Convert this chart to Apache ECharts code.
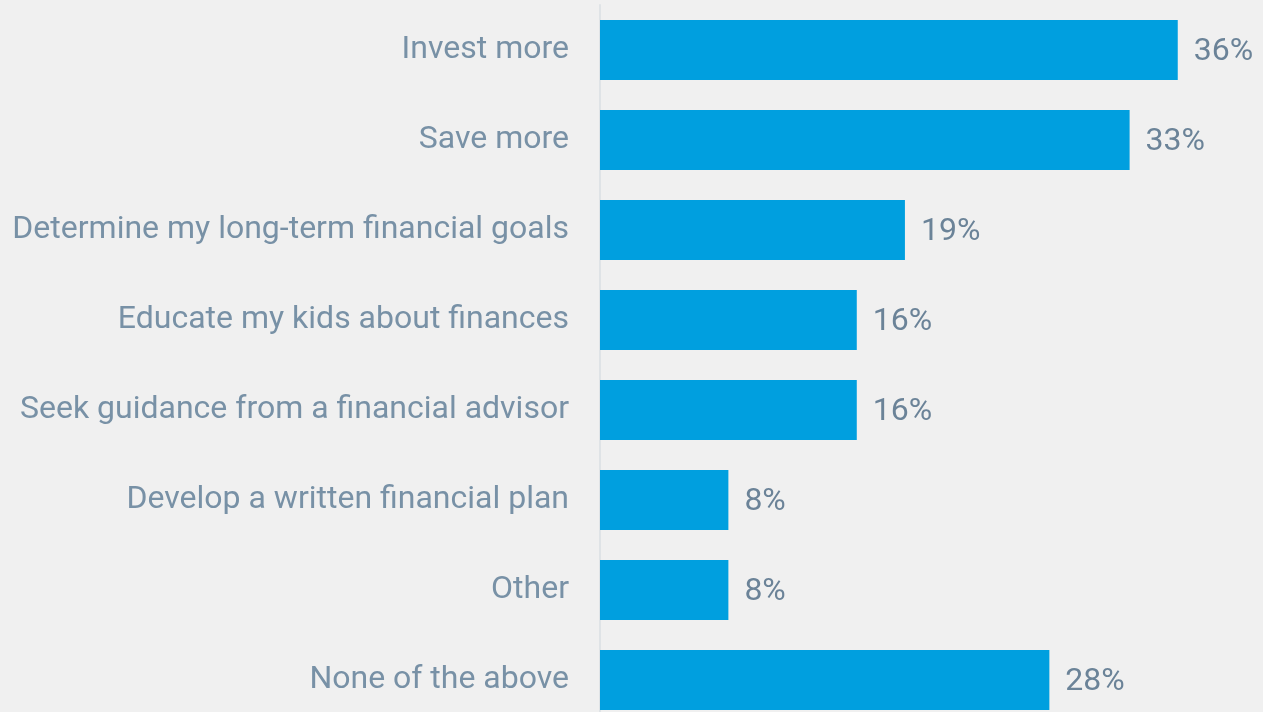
<!DOCTYPE html>
<html>
<head>
<meta charset="utf-8">
<style>
  html, body { margin: 0; padding: 0; background: #f0f0f0; }
  #chart { width: 1263px; height: 712px; }
</style>
<script src="https://cdn.jsdelivr.net/npm/echarts@6/dist/echarts.min.js"></script>
</head>
<body>
<div id="chart"></div>
<script>
// Survey responses, top to bottom
const categories = [
  'Invest more',
  'Save more',
  'Determine my long-term financial goals',
  'Educate my kids about finances',
  'Seek guidance from a financial advisor',
  'Develop a written financial plan',
  'Other',
  'None of the above'
];
const shares = [36, 33, 19, 16, 16, 8, 8, 28];

const chart = echarts.init(document.getElementById('chart'), null, { renderer: 'canvas' });

chart.setOption({
  backgroundColor: '#f0f0f0',
  animation: false,
  grid: {
    left: 600, top: 5, width: 658, height: 720,
    containLabel: false,
    outerBoundsMode: 'none'
  },
  xAxis: {
    type: 'value',
    min: 0,
    max: 41,
    show: false
  },
  yAxis: {
    type: 'category',
    data: categories,
    inverse: true,
    axisLine: { show: true, lineStyle: { color: '#dfe3e6', width: 2 } },
    axisTick: { show: false },
    axisLabel: {
      margin: 31,
      color: '#7891a6',
      fontFamily: 'Roboto',
      fontSize: 32,
      padding: [2, 0, 0, 0]
    }
  },
  series: [{
    type: 'bar',
    data: shares,
    barWidth: 60,
    itemStyle: { color: '#009fdf' },
    label: {
      show: true,
      position: 'right',
      distance: 16,
      offset: [0, 2],
      formatter: '{c}%',
      color: '#6b8398',
      fontFamily: 'Roboto',
      fontSize: 32
    }
  }]
});
</script>
</body>
</html>
